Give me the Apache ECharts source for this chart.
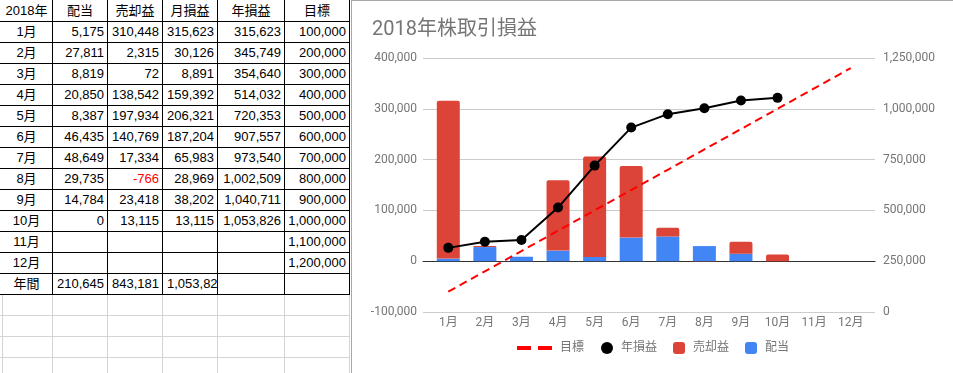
<!DOCTYPE html>
<html><head><meta charset="utf-8">
<script src="https://cdn.jsdelivr.net/npm/echarts@6/dist/echarts.min.js"></script>
<style>
html,body{margin:0;padding:0;background:#fff;width:953px;height:373px;overflow:hidden;}
#sheet{position:absolute;left:0;top:0;width:953px;height:373px;}
.cell{position:absolute;box-sizing:border-box;font-family:"Liberation Sans",Arial,"Noto Sans CJK JP",sans-serif;font-size:13px;line-height:21px;height:21px;color:#000;white-space:nowrap;overflow:hidden;}
.ln{position:absolute;}
#chart{position:absolute;left:0;top:0;width:953px;height:373px;}
</style></head><body>
<div id="sheet"></div>
<div id="chart"></div>
<script>
// ---- data ----
const months   = ['1月','2月','3月','4月','5月','6月','7月','8月','9月','10月','11月','12月'];
const dividend = [5175, 27811, 8819, 20850, 8387, 46435, 48649, 29735, 14784, 0, null, null];      // 配当
const gain     = [310448, 2315, 72, 138542, 197934, 140769, 17334, -766, 23418, 13115, null, null]; // 売却益
const monthly  = [315623, 30126, 8891, 159392, 206321, 187204, 65983, 28969, 38202, 13115, null, null]; // 月損益
const yearly   = [315623, 345749, 354640, 514032, 720353, 907557, 973540, 1002509, 1040711, 1053826, null, null]; // 年損益
const target   = [100000, 200000, 300000, 400000, 500000, 600000, 700000, 800000, 900000, 1000000, 1100000, 1200000]; // 目標
const totals   = [210645, 843181, 1053826];
const headers  = ['2018年','配当','売却益','月損益','年損益','目標'];
const totalLabel = '年間';
const title = '2018年株取引損益';
const leftAxis  = {min: -100000, max: 400000, interval: 100000};
const rightAxis = {min: 0, max: 1250000, interval: 250000};

// ---- spreadsheet table ----
const sheet = document.getElementById('sheet');
const colX = [0, 52, 107, 162, 217, 284, 349];
const rowH = 21;
const fmt = v => v.toLocaleString('en-US');
function line(x, y, w, h, c) {
  const d = document.createElement('div'); d.className = 'ln';
  d.style.cssText = `left:${x}px;top:${y}px;width:${w}px;height:${h}px;background:${c};`;
  sheet.appendChild(d);
}
function cell(r, c, text, align, color) {
  const d = document.createElement('div'); d.className = 'cell';
  const x0 = colX[c] + 1, x1 = colX[c + 1];
  d.style.left = x0 + 'px'; d.style.top = (r * rowH) + 'px'; d.style.width = (x1 - x0) + 'px';
  d.style.textAlign = align;
  if (align === 'right') d.style.paddingRight = '3px';
  if (align === 'left') d.style.paddingLeft = '4px';
  if (color) d.style.color = color;
  d.textContent = text;
  sheet.appendChild(d);
}
// gray lines below table
for (let k = 1; k <= 3; k++) line(0, 294 + k * rowH, 350, 1, '#d4d4d4');
for (let c = 1; c < colX.length; c++) line(colX[c], 295, 1, 80, '#d4d4d4');
line(2, 295, 1, 80, '#d4d4d4');
// black table grid
for (let k = 1; k <= 14; k++) line(0, k * rowH, 350, 1, '#000');
for (let c = 1; c < colX.length; c++) line(colX[c], 0, 1, 295, '#000');
// chart frame
line(351, 0, 1, 373, '#a8a8a8');
line(351, 0, 602, 1, '#a8a8a8');

headers.forEach((h, c) => cell(0, c, h, 'center'));
months.forEach((m, i) => {
  const r = i + 1;
  cell(r, 0, m, 'center');
  const vals = [dividend[i], gain[i], monthly[i], yearly[i], target[i]];
  vals.forEach((v, j) => {
    if (v === null) return;
    cell(r, j + 1, fmt(v), 'right', v < 0 ? '#ff0000' : null);
  });
});
cell(13, 0, totalLabel, 'center');
cell(13, 1, fmt(totals[0]), 'right');
cell(13, 2, fmt(totals[1]), 'right');
cell(13, 3, fmt(totals[2]), 'left');

// ---- chart ----
const FONT = 'Roboto, "Noto Sans CJK JP", sans-serif';
const GRAY = '#757575';
const chart = echarts.init(document.getElementById('chart'), null, {renderer: 'canvas'});
chart.setOption({
  animation: false,
  textStyle: {fontFamily: FONT},
  title: {text: title, left: 372, top: 20, padding: 0,
    textStyle: {fontSize: 20, fontWeight: 'normal', color: GRAY, fontFamily: FONT}},
  legend: [
    {left: 517, top: 342, padding: 0, itemWidth: 35, itemHeight: 4,
      data: [{name: '目標', icon: 'path://M0,0h14v4H0z M21,0h14v4H21z', itemStyle: {color: '#ff0000', borderWidth: 0}}],
      textStyle: {fontSize: 12, color: GRAY, fontFamily: FONT, padding: [0, 0, 0, 3]}},
    {left: 601, top: 342, padding: 0, itemWidth: 12, itemHeight: 12, itemGap: 16,
      data: [
        {name: '年損益', icon: 'circle', itemStyle: {color: '#000', borderWidth: 0}},
        {name: '売却益', icon: 'roundRect', itemStyle: {color: '#db4437', borderWidth: 0}},
        {name: '配当', icon: 'roundRect', itemStyle: {color: '#4285f4', borderWidth: 0}}
      ],
      textStyle: {fontSize: 12, color: GRAY, fontFamily: FONT, padding: [0, 0, 0, 3]}}
  ],
  grid: [
    {left: 423, right: 78, top: 58, bottom: 61},
    {left: 430, right: 84, top: 58, bottom: 61}
  ],
  xAxis: [
    {gridIndex: 0, type: 'value', min: 0, max: 1,
      axisLine: {show: true, onZero: true, onZeroAxisIndex: 0, lineStyle: {color: '#333', width: 1}},
      axisTick: {show: false}, axisLabel: {show: false}, splitLine: {show: false}},
    {gridIndex: 1, type: 'category', data: months,
      axisLine: {show: false}, axisTick: {show: false},
      axisLabel: {margin: 5, color: GRAY, fontSize: 12, fontFamily: FONT}}
  ],
  yAxis: [
    {gridIndex: 0, type: 'value', min: leftAxis.min, max: leftAxis.max, interval: leftAxis.interval,
      axisLine: {show: false}, axisTick: {show: false},
      axisLabel: {margin: 6, color: GRAY, fontSize: 12, fontFamily: FONT, formatter: fmt},
      splitLine: {lineStyle: {color: '#cccccc', width: 1}}},
    {gridIndex: 0, type: 'value', position: 'right', min: rightAxis.min, max: rightAxis.max, interval: rightAxis.interval,
      axisLine: {show: false}, axisTick: {show: false},
      axisLabel: {margin: 8, color: GRAY, fontSize: 12, fontFamily: FONT, formatter: fmt},
      splitLine: {show: false}},
    {gridIndex: 1, type: 'value', min: leftAxis.min, max: leftAxis.max, show: false},
    {gridIndex: 1, type: 'value', position: 'right', min: rightAxis.min, max: rightAxis.max, show: false}
  ],
  series: [
    {name: '配当', type: 'bar', xAxisIndex: 1, yAxisIndex: 2, stack: 's', data: dividend, barWidth: 23,
      itemStyle: {color: '#4285f4'}},
    {name: '売却益', type: 'bar', xAxisIndex: 1, yAxisIndex: 2, stack: 's', data: gain, barWidth: 23,
      itemStyle: {color: '#db4437', borderRadius: [2, 2, 0, 0]}},
    {name: '目標', type: 'line', xAxisIndex: 1, yAxisIndex: 3, data: target, symbol: 'none',
      lineStyle: {color: '#ff0000', width: 2, type: [8, 5]}, itemStyle: {color: '#ff0000'}},
    {name: '年損益', type: 'line', xAxisIndex: 1, yAxisIndex: 3, data: yearly, symbol: 'circle', symbolSize: 10,
      lineStyle: {color: '#000', width: 2}, itemStyle: {color: '#000'}}
  ]
});
</script>
</body></html>
